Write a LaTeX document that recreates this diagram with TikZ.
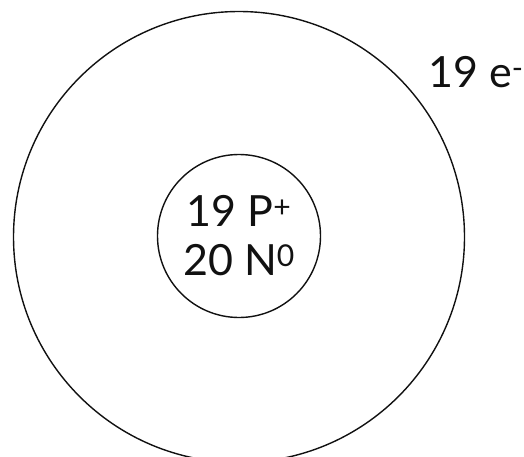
\documentclass[tikz,border=0pt]{standalone}
\usepackage{fontspec}
\setmainfont{Lato}
\usetikzlibrary{positioning}
\definecolor{inkblk}{HTML}{111111}

\begin{document}
\begin{tikzpicture}[x=1pt, y=-1pt,
  shell/.style={circle, draw=inkblk, line width=1.4pt, minimum size=451pt, inner sep=0pt},
  nucleus/.style={circle, draw=inkblk, line width=1.4pt, minimum size=163pt, inner sep=0pt,
    align=center, font=\fontsize{43}{49}\selectfont, text=inkblk},
  count/.style={font=\fontsize{43}{49}\selectfont, text=inkblk, inner sep=0pt},
]

% Frame
\useasboundingbox (0,0) rectangle (524,457);

\node[shell] (orbit) at (239,237) {};
\node[nucleus] (core) at (239,236) {19 P\textsuperscript{+}\\20 N\textsuperscript{0}};
\node[count, anchor=base west] (elec) at (428,88) {19 e\textsuperscript{-}};
\end{tikzpicture}
\end{document}
